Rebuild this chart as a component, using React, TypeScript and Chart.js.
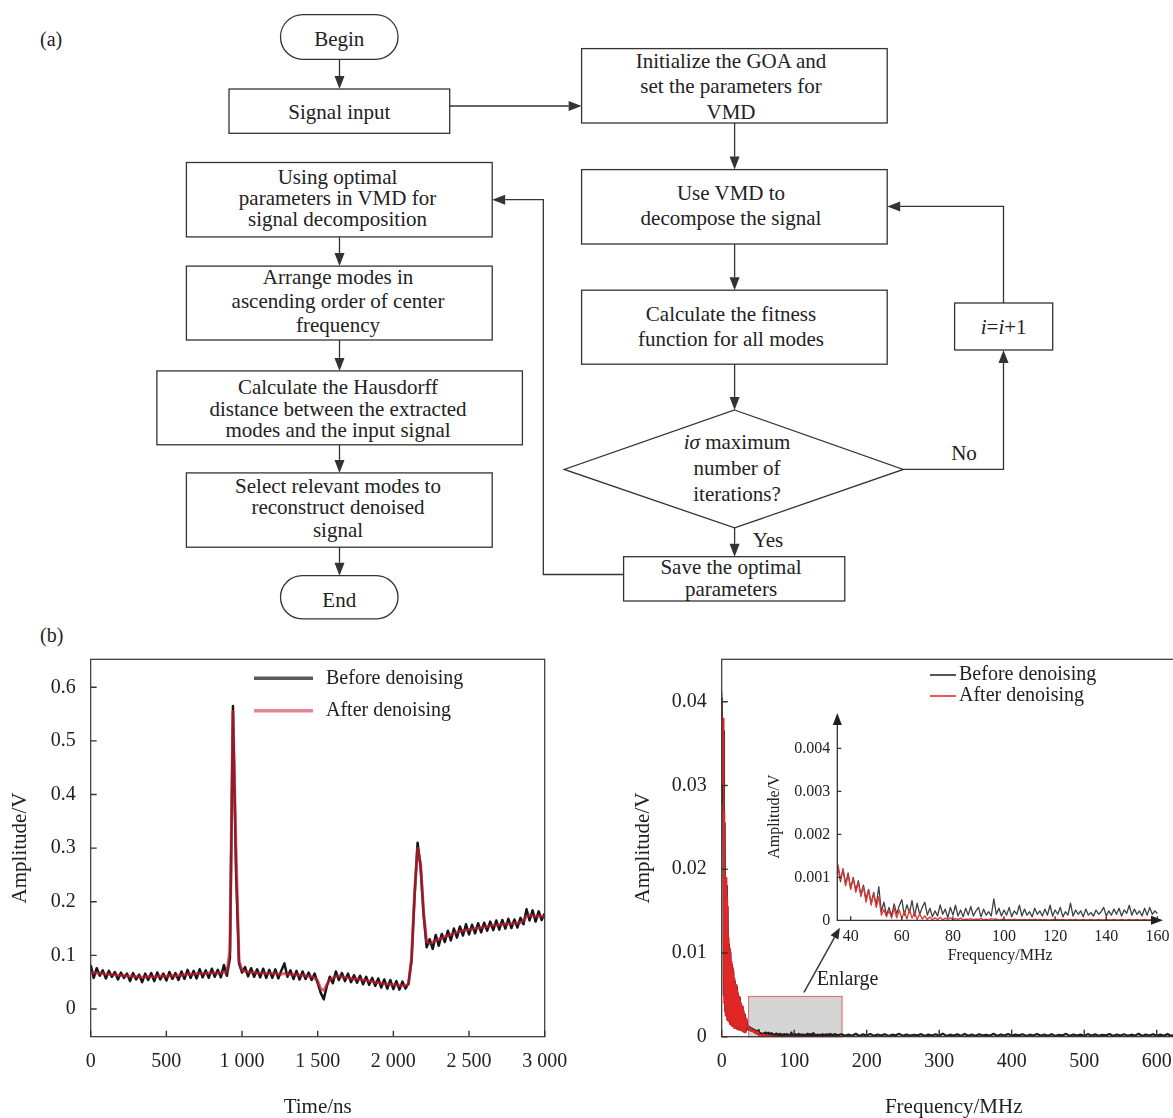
import React, { useEffect, useRef } from "react";
import { Chart, registerables } from "chart.js";

Chart.register(...registerables);

const SERIF = '"Liberation Serif", "Times New Roman", Times, serif';
const INK = "#222222";
const LINE = "#333333";

// ---------------- (b) left : time-domain signal ----------------
const TIME_STEP_NS = 20; // sampling step of the arrays below (0 … 3000 ns)
const beforeTimeAmp = [
  0.082, 0.058, 0.076, 0.062, 0.072, 0.057, 0.071, 0.060, 0.069, 0.055,
  0.068, 0.058, 0.066, 0.052, 0.067, 0.055, 0.064, 0.050, 0.066, 0.054,
  0.067, 0.052, 0.068, 0.055, 0.066, 0.053, 0.069, 0.056, 0.067, 0.054,
  0.070, 0.056, 0.073, 0.058, 0.071, 0.057, 0.074, 0.059, 0.072, 0.058,
  0.075, 0.060, 0.073, 0.059, 0.082, 0.062, 0.095, 0.565, 0.260, 0.085,
  0.068, 0.078, 0.061, 0.076, 0.060, 0.074, 0.059, 0.075, 0.058, 0.073,
  0.058, 0.074, 0.057, 0.072, 0.085, 0.060, 0.072, 0.056, 0.071, 0.055,
  0.070, 0.056, 0.068, 0.054, 0.066, 0.048, 0.030, 0.018, 0.042, 0.060,
  0.048, 0.070, 0.054, 0.067, 0.052, 0.066, 0.050, 0.063, 0.049, 0.062,
  0.046, 0.060, 0.045, 0.058, 0.043, 0.057, 0.040, 0.055, 0.038, 0.054,
  0.037, 0.052, 0.036, 0.051, 0.038, 0.048, 0.090, 0.210, 0.310, 0.265,
  0.175, 0.115, 0.130, 0.112, 0.138, 0.118, 0.140, 0.125, 0.146, 0.128,
  0.150, 0.133, 0.154, 0.137, 0.158, 0.139, 0.157, 0.141, 0.160, 0.143,
  0.161, 0.146, 0.163, 0.147, 0.165, 0.148, 0.166, 0.150, 0.168, 0.151,
  0.167, 0.152, 0.170, 0.158, 0.186, 0.165, 0.184, 0.163, 0.182, 0.166,
  0.178,
];
const afterTimeAmp = [
  0.068, 0.067, 0.067, 0.066, 0.066, 0.065, 0.065, 0.064, 0.064, 0.063,
  0.063, 0.062, 0.062, 0.061, 0.061, 0.060, 0.060, 0.059, 0.060, 0.060,
  0.060, 0.060, 0.061, 0.061, 0.061, 0.061, 0.062, 0.062, 0.062, 0.063,
  0.063, 0.064, 0.065, 0.065, 0.065, 0.066, 0.066, 0.066, 0.066, 0.067,
  0.067, 0.067, 0.067, 0.067, 0.068, 0.069, 0.110, 0.555, 0.300, 0.090,
  0.072, 0.070, 0.069, 0.068, 0.068, 0.067, 0.067, 0.067, 0.066, 0.066,
  0.066, 0.066, 0.065, 0.065, 0.066, 0.065, 0.065, 0.064, 0.064, 0.063,
  0.063, 0.062, 0.061, 0.060, 0.058, 0.052, 0.038, 0.035, 0.045, 0.054,
  0.058, 0.061, 0.061, 0.060, 0.059, 0.058, 0.057, 0.056, 0.056, 0.055,
  0.054, 0.053, 0.052, 0.051, 0.050, 0.049, 0.048, 0.047, 0.046, 0.046,
  0.045, 0.045, 0.044, 0.044, 0.044, 0.046, 0.095, 0.215, 0.300, 0.270,
  0.180, 0.125, 0.122, 0.125, 0.128, 0.130, 0.132, 0.135, 0.137, 0.139,
  0.141, 0.143, 0.145, 0.146, 0.147, 0.148, 0.149, 0.150, 0.151, 0.152,
  0.153, 0.154, 0.155, 0.156, 0.156, 0.157, 0.158, 0.158, 0.159, 0.159,
  0.160, 0.160, 0.161, 0.165, 0.173, 0.175, 0.174, 0.173, 0.174, 0.173,
  0.172,
];
const timeNs = beforeTimeAmp.map((_, i) => i * TIME_STEP_NS);
const timeTicks = [0, 500, 1000, 1500, 2000, 2500, 3000];
const timeTickLabels = ["0", "500", "1 000", "1 500", "2 000", "2 500", "3 000"];
const ampTicks = [0, 0.1, 0.2, 0.3, 0.4, 0.5, 0.6];
const ampTickLabels = ["0", "0.1", "0.2", "0.3", "0.4", "0.5", "0.6"];

// ---------------- (b) right : spectrum (values in mV) ----------------
const beforeSpecLow_mV = [ // 0 … 160 MHz, 1 MHz step
  40.5, 28.0, 36.5, 5.0, 25.5, 3.0, 18.0, 2.5, 15.5, 2.0,
  11.0, 1.8, 10.0, 1.5, 8.6, 1.4, 7.8, 1.2, 6.6, 1.1,
  5.9, 1.0, 5.2, 0.9, 4.6, 0.9, 4.0, 0.8, 3.5, 0.7,
  3.0, 0.6, 2.6, 0.6, 2.1, 1.25, 0.90, 1.20, 0.85, 1.10,
  0.75, 1.00, 0.70, 0.92, 0.60, 0.82, 0.50, 0.72, 0.40, 0.65,
  0.35, 0.78, 0.20, 0.42, 0.12, 0.30, 0.10, 0.38, 0.15, 0.34,
  0.48, 0.12, 0.36, 0.18, 0.46, 0.10, 0.40, 0.14, 0.30, 0.42,
  0.12, 0.28, 0.08, 0.22, 0.10, 0.36, 0.14, 0.26, 0.06, 0.30,
  0.12, 0.35, 0.10, 0.24, 0.08, 0.28, 0.12, 0.32, 0.10, 0.22,
  0.30, 0.08, 0.26, 0.12, 0.20, 0.10, 0.50, 0.14, 0.28, 0.10,
  0.24, 0.12, 0.30, 0.08, 0.22, 0.14, 0.35, 0.10, 0.26, 0.12,
  0.20, 0.08, 0.28, 0.14, 0.22, 0.10, 0.26, 0.12, 0.35, 0.10,
  0.24, 0.14, 0.30, 0.08, 0.20, 0.12, 0.40, 0.10, 0.24, 0.14,
  0.22, 0.08, 0.26, 0.12, 0.18, 0.10, 0.24, 0.14, 0.20, 0.30,
  0.10, 0.22, 0.12, 0.26, 0.14, 0.28, 0.10, 0.24, 0.16, 0.35,
  0.12, 0.26, 0.14, 0.22, 0.10, 0.28, 0.12, 0.30, 0.14, 0.22,
  0.16,
];
const afterSpecLow_mV = [ // 0 … 160 MHz, 1 MHz step
  41.2, 30.0, 38.0, 4.0, 27.0, 2.5, 19.0, 2.0, 16.5, 1.8,
  11.8, 1.5, 10.5, 1.3, 9.0, 1.2, 8.2, 1.0, 7.0, 1.0,
  6.2, 0.9, 5.5, 0.8, 4.8, 0.8, 4.2, 0.7, 3.7, 0.6,
  3.2, 0.5, 2.7, 0.5, 2.2, 1.30, 0.95, 1.18, 0.80, 1.05,
  0.72, 0.98, 0.65, 0.88, 0.55, 0.78, 0.42, 0.70, 0.35, 0.62,
  0.30, 0.55, 0.12, 0.25, 0.08, 0.22, 0.05, 0.28, 0.06, 0.24,
  0.04, 0.20, 0.03, 0.25, 0.05, 0.18, 0.02, 0.15, 0.03, 0.10,
  0.02, 0.08, 0.01, 0.06, 0.02, 0.07, 0.01, 0.05, 0.02, 0.06,
  0.01, 0.04, 0.02, 0.05, 0.01, 0.03, 0.02, 0.04, 0.01, 0.03,
  0.02, 0.04, 0.01, 0.03, 0.01, 0.04, 0.02, 0.03, 0.01, 0.02,
  0.03, 0.01, 0.02, 0.01, 0.03, 0.01, 0.02, 0.01, 0.02, 0.01,
  0.02, 0.01, 0.03, 0.01, 0.02, 0.01, 0.02, 0.01, 0.01, 0.02,
  0.01, 0.02, 0.01, 0.02, 0.01, 0.01, 0.02, 0.01, 0.02, 0.01,
  0.01, 0.02, 0.01, 0.01, 0.02, 0.01, 0.01, 0.02, 0.01, 0.01,
  0.02, 0.01, 0.01, 0.02, 0.01, 0.01, 0.02, 0.01, 0.01, 0.02,
  0.01, 0.01, 0.02, 0.01, 0.01, 0.02, 0.01, 0.01, 0.02, 0.01,
  0.01,
];
const beforeSpecHigh_mV = [ // 165 … 640 MHz, 5 MHz step
  0.30, 0.10, 0.25, 0.12, 0.35, 0.08, 0.28, 0.15, 0.32, 0.10,
  0.26, 0.14, 0.30, 0.09, 0.24, 0.16, 0.34, 0.10, 0.27, 0.12,
  0.22, 0.15, 0.31, 0.08, 0.25, 0.13, 0.29, 0.11, 0.36, 0.09,
  0.24, 0.14, 0.28, 0.10, 0.33, 0.12, 0.26, 0.08, 0.30, 0.15,
  0.23, 0.11, 0.35, 0.09, 0.27, 0.13, 0.31, 0.10, 0.25, 0.16,
  0.29, 0.08, 0.24, 0.14, 0.33, 0.11, 0.26, 0.12, 0.30, 0.09,
  0.22, 0.15, 0.34, 0.10, 0.27, 0.13, 0.25, 0.08, 0.31, 0.12,
  0.28, 0.10, 0.23, 0.16, 0.32, 0.09, 0.26, 0.14, 0.29, 0.11,
  0.24, 0.13, 0.35, 0.08, 0.27, 0.15, 0.30, 0.10, 0.25, 0.12,
  0.33, 0.09, 0.26, 0.14, 0.29, 0.11,
];
const afterSpecHigh_mV = [ // 165 … 640 MHz, 5 MHz step
  0.02, 0.01, 0.03, 0.01, 0.02, 0.01, 0.02, 0.03, 0.01, 0.02,
  0.01, 0.02, 0.01, 0.03, 0.01, 0.02, 0.01, 0.02, 0.01, 0.02,
  0.03, 0.01, 0.02, 0.01, 0.02, 0.01, 0.03, 0.01, 0.02, 0.01,
  0.02, 0.01, 0.02, 0.03, 0.01, 0.02, 0.01, 0.02, 0.01, 0.03,
  0.01, 0.02, 0.01, 0.02, 0.01, 0.03, 0.01, 0.02, 0.01, 0.02,
  0.02, 0.01, 0.03, 0.01, 0.02, 0.01, 0.02, 0.01, 0.03, 0.01,
  0.02, 0.01, 0.02, 0.01, 0.03, 0.02, 0.01, 0.02, 0.01, 0.02,
  0.01, 0.03, 0.01, 0.02, 0.01, 0.02, 0.01, 0.02, 0.03, 0.01,
  0.02, 0.01, 0.02, 0.01, 0.02, 0.01, 0.03, 0.01, 0.02, 0.01,
  0.02, 0.01, 0.03, 0.01, 0.02, 0.01,
];
const specLowFreq = beforeSpecLow_mV.map((_, i) => i);
const specHighFreq = beforeSpecHigh_mV.map((_, i) => 165 + 5 * i);
const freqTicks = [0, 100, 200, 300, 400, 500, 600];
const freqTickLabels = ["0", "100", "200", "300", "400", "500", "600"];
const specAmpTicks = [0, 0.01, 0.02, 0.03, 0.04];
const specAmpTickLabels = ["0", "0.01", "0.02", "0.03", "0.04"];
const insetFreqTicks = [40, 60, 80, 100, 120, 140, 160];
const insetFreqTickLabels = ["40", "60", "80", "100", "120", "140", "160"];
const insetAmpTicks = [0, 0.001, 0.002, 0.003, 0.004];
const insetAmpTickLabels = ["0", "0.001", "0.002", "0.003", "0.004"];
const seriesLabels = ["Before denoising", "After denoising"];

// enlarged region and its annotation (data units)
const ENLARGE_BOX = { fromMHz: 37, toMHz: 166, topV: 0.0048 };
const ENLARGE_ARROW = { fromMHz: 113.5, fromV: 0.0053, toMHz: 163, toV: 0.013 };
const ENLARGE_LABEL = { atMHz: 131, atV: 0.0068, text: "Enlarge" };

const mV = (v: number) => v / 1000;
const toXY = (xs: number[], ys: number[], f = (v: number) => v) =>
  ys.map((y, i) => ({ x: xs[i], y: f(y) }));

function fixedTicks(values: number[]) {
  return (scale: any) => {
    scale.ticks = values.map((v) => ({ value: v }));
  };
}

// fix the axis box size and cancel Chart.js' automatic label overflow padding
function fixSize(dim: "width" | "height", size: number) {
  return (s: any) => {
    s[dim] = size;
    s.paddingTop = 0;
    s.paddingBottom = 0;
    s.paddingLeft = 0;
    s.paddingRight = 0;
  };
}

const NO_GRID = { display: false, drawTicks: false, tickLength: 0 };

function arrowHead(ctx: any, x1: number, y1: number, x2: number, y2: number, len: number, half: number) {
  const dx = x2 - x1, dy = y2 - y1;
  const L = Math.hypot(dx, dy);
  const ux = dx / L, uy = dy / L;
  const bx = x2 - ux * len, by = y2 - uy * len;
  ctx.beginPath();
  ctx.moveTo(x2, y2);
  ctx.lineTo(bx - uy * half, by + ux * half);
  ctx.lineTo(bx + uy * half, by - ux * half);
  ctx.closePath();
  ctx.fill();
  return [bx, by];
}

function frameAndTicks(id: string, tickX: number, tickY: number) {
  return {
    id,
    afterDatasetsDraw(chart: any) {
      const { ctx, chartArea: a, scales } = chart;
      ctx.save();
      ctx.strokeStyle = LINE;
      ctx.lineWidth = 1.2;
      ctx.strokeRect(a.left, a.top, a.right - a.left, a.bottom - a.top);
      ctx.beginPath();
      scales.x.ticks.forEach((t: any) => {
        const px = scales.x.getPixelForValue(t.value);
        ctx.moveTo(px, a.bottom);
        ctx.lineTo(px, a.bottom - tickX);
      });
      scales.y.ticks.forEach((t: any) => {
        const py = scales.y.getPixelForValue(t.value);
        ctx.moveTo(a.left, py);
        ctx.lineTo(a.left + tickY, py);
      });
      ctx.lineWidth = 1.4;
      ctx.stroke();
      ctx.restore();
    },
  };
}

function makeTimeChart(canvas: HTMLCanvasElement) {
  const legendPlugin = {
    id: "timeLegend",
    afterDraw(chart: any) {
      const { ctx } = chart;
      ctx.save();
      const rows = [
        { y: 38.3, color: "#5a5a5a", text: seriesLabels[0] },
        { y: 70.7, color: "rgba(224,112,126,0.85)", text: seriesLabels[1] },
      ];
      rows.forEach((r) => {
        ctx.strokeStyle = r.color;
        ctx.lineWidth = 3.5;
        ctx.beginPath();
        ctx.moveTo(254, r.y);
        ctx.lineTo(313, r.y);
        ctx.stroke();
        ctx.fillStyle = INK;
        ctx.font = `20px ${SERIF}`;
        ctx.textBaseline = "middle";
        ctx.textAlign = "left";
        ctx.fillText(r.text, 326, r.y);
      });
      ctx.restore();
    },
  };
  return new Chart(canvas, {
    type: "line",
    data: {
      datasets: [
        {
          label: seriesLabels[1],
          data: toXY(timeNs, afterTimeAmp),
          borderColor: "rgba(204,30,48,0.68)",
          borderWidth: 3,
          pointRadius: 0,
          borderJoinStyle: "round",
          order: 0,
        },
        {
          label: seriesLabels[0],
          data: toXY(timeNs, beforeTimeAmp),
          borderColor: "#161616",
          borderWidth: 2.5,
          pointRadius: 0,
          borderJoinStyle: "round",
          order: 1,
        },
      ],
    },
    options: {
      animation: false,
      responsive: false,
      devicePixelRatio: 1,
      layout: { autoPadding: false, padding: { left: 0, top: 19.3, right: 25.3, bottom: 0 } },
      plugins: { legend: { display: false }, tooltip: { enabled: false } },
      scales: {
        x: {
          type: "linear",
          min: 0,
          max: 3000,
          afterBuildTicks: fixedTicks(timeTicks),
          afterFit: fixSize("height", 81.3),
          grid: NO_GRID,
          border: { display: false },
          ticks: {
            autoSkip: false, maxRotation: 0, padding: 13, color: INK,
            font: { family: SERIF, size: 20 },
            callback: (_v: any, i: number) => timeTickLabels[i],
          },
          title: {
            display: true, text: "Time/ns", color: INK,
            font: { family: SERIF, size: 21, lineHeight: 1 }, padding: { top: 0, bottom: 0 },
          },
        },
        y: {
          type: "linear",
          min: -0.0517,
          max: 0.6522,
          afterBuildTicks: fixedTicks(ampTicks),
          afterFit: fixSize("width", 90.7),
          grid: NO_GRID,
          border: { display: false },
          ticks: {
            autoSkip: false, padding: 15, color: INK,
            font: { family: SERIF, size: 20 },
            callback: (_v: any, i: number) => ampTickLabels[i],
          },
          title: {
            display: true, text: "Amplitude/V", color: INK,
            font: { family: SERIF, size: 21, lineHeight: 1 }, padding: { top: 9.5, bottom: 0 },
          },
        },
      },
    } as any,
    plugins: [frameAndTicks("timeFrame", 6, 6), legendPlugin],
  });
}

function makeSpecChart(canvas: HTMLCanvasElement) {
  const boxPlugin = {
    id: "enlargeBox",
    beforeDatasetsDraw(chart: any) {
      const { ctx, scales } = chart;
      const x0 = scales.x.getPixelForValue(ENLARGE_BOX.fromMHz);
      const x1 = scales.x.getPixelForValue(ENLARGE_BOX.toMHz);
      const y0 = scales.y.getPixelForValue(0);
      const y1 = scales.y.getPixelForValue(ENLARGE_BOX.topV);
      ctx.save();
      ctx.fillStyle = "#d5d5d5";
      ctx.fillRect(x0, y1, x1 - x0, y0 - y1);
      ctx.strokeStyle = "rgba(214,112,112,0.9)";
      ctx.lineWidth = 1.2;
      ctx.strokeRect(x0, y1, x1 - x0, y0 - y1);
      ctx.restore();
    },
  };
  const annotPlugin = {
    id: "specAnnot",
    afterDraw(chart: any) {
      const { ctx, scales } = chart;
      ctx.save();
      const rows = [
        { y: 35, color: "#2a2a2a", text: seriesLabels[0] },
        { y: 56, color: "rgb(228,45,45)", text: seriesLabels[1] },
      ];
      rows.forEach((r) => {
        ctx.strokeStyle = r.color;
        ctx.lineWidth = 1.6;
        ctx.beginPath();
        ctx.moveTo(330, r.y);
        ctx.lineTo(356, r.y);
        ctx.stroke();
        ctx.fillStyle = INK;
        ctx.font = `20px ${SERIF}`;
        ctx.textBaseline = "middle";
        ctx.textAlign = "left";
        ctx.fillText(r.text, 359, r.y);
      });
      const ax0 = scales.x.getPixelForValue(ENLARGE_ARROW.fromMHz);
      const ay0 = scales.y.getPixelForValue(ENLARGE_ARROW.fromV);
      const ax1 = scales.x.getPixelForValue(ENLARGE_ARROW.toMHz);
      const ay1 = scales.y.getPixelForValue(ENLARGE_ARROW.toV);
      ctx.strokeStyle = "#3a3a3a";
      ctx.fillStyle = "#2a2a2a";
      ctx.lineWidth = 1.5;
      const [bx, by] = arrowHead(ctx, ax0, ay0, ax1, ay1, 11, 4.5);
      ctx.beginPath();
      ctx.moveTo(ax0, ay0);
      ctx.lineTo(bx, by);
      ctx.stroke();
      ctx.fillStyle = INK;
      ctx.font = `20px ${SERIF}`;
      ctx.textBaseline = "middle";
      ctx.textAlign = "left";
      ctx.fillText(
        ENLARGE_LABEL.text,
        scales.x.getPixelForValue(ENLARGE_LABEL.atMHz),
        scales.y.getPixelForValue(ENLARGE_LABEL.atV)
      );
      ctx.restore();
    },
  };
  const allFreq = specLowFreq.concat(specHighFreq);
  return new Chart(canvas, {
    type: "line",
    data: {
      datasets: [
        {
          label: seriesLabels[1],
          data: toXY(allFreq, afterSpecLow_mV.concat(afterSpecHigh_mV), mV),
          borderColor: "rgb(226,38,38)",
          borderWidth: 1.3,
          pointRadius: 0,
          borderJoinStyle: "round",
          order: 0,
        },
        {
          label: seriesLabels[0],
          data: toXY(allFreq, beforeSpecLow_mV.concat(beforeSpecHigh_mV), mV),
          borderColor: "#1e1e1e",
          borderWidth: 2.2,
          pointRadius: 0,
          borderJoinStyle: "round",
          order: 1,
        },
      ],
    },
    options: {
      animation: false,
      responsive: false,
      devicePixelRatio: 1,
      layout: { autoPadding: false, padding: { left: 0, top: 19.3, right: 14.3, bottom: 0 } },
      plugins: { legend: { display: false }, tooltip: { enabled: false } },
      scales: {
        x: {
          type: "linear",
          min: 0,
          max: 640,
          afterBuildTicks: fixedTicks(freqTicks),
          afterFit: fixSize("height", 81.3),
          grid: NO_GRID,
          border: { display: false },
          ticks: {
            autoSkip: false, maxRotation: 0, padding: 13, color: INK,
            font: { family: SERIF, size: 20 },
            callback: (_v: any, i: number) => freqTickLabels[i],
          },
          title: {
            display: true, text: "Frequency/MHz", color: INK,
            font: { family: SERIF, size: 21, lineHeight: 1 }, padding: { top: 0, bottom: 0 },
          },
        },
        y: {
          type: "linear",
          min: 0,
          max: 0.04506,
          afterBuildTicks: fixedTicks(specAmpTicks),
          afterFit: fixSize("width", 121.7),
          grid: NO_GRID,
          border: { display: false },
          ticks: {
            autoSkip: false, padding: 15, color: INK,
            font: { family: SERIF, size: 20 },
            callback: (_v: any, i: number) => specAmpTickLabels[i],
          },
          title: {
            display: true, text: "Amplitude/V", color: INK,
            font: { family: SERIF, size: 21, lineHeight: 1 }, padding: { top: 32.5, bottom: 0 },
          },
        },
      },
    } as any,
    plugins: [boxPlugin, frameAndTicks("specFrame", 7, 6), annotPlugin],
  });
}

function makeInsetChart(canvas: HTMLCanvasElement) {
  const axesPlugin = {
    id: "insetAxes",
    afterDatasetsDraw(chart: any) {
      const { ctx, chartArea: a, scales } = chart;
      ctx.save();
      ctx.strokeStyle = LINE;
      ctx.fillStyle = "#1e1e1e";
      ctx.lineWidth = 1.3;
      const [tx, ty] = arrowHead(ctx, a.left, a.bottom, a.left, a.top, 12, 4.5);
      const [rx, ry] = arrowHead(ctx, a.left, a.bottom, a.right, a.bottom, 12, 4.5);
      ctx.beginPath();
      ctx.moveTo(tx, ty);
      ctx.lineTo(a.left, a.bottom);
      ctx.lineTo(rx, ry);
      scales.x.ticks.forEach((t: any) => {
        const px = scales.x.getPixelForValue(t.value);
        ctx.moveTo(px, a.bottom);
        ctx.lineTo(px, a.bottom - 4);
      });
      scales.y.ticks.forEach((t: any) => {
        const py = scales.y.getPixelForValue(t.value);
        ctx.moveTo(a.left, py);
        ctx.lineTo(a.left + 4, py);
      });
      ctx.stroke();
      ctx.restore();
    },
  };
  const sliceFrom = 35;
  return new Chart(canvas, {
    type: "line",
    data: {
      datasets: [
        {
          label: seriesLabels[1],
          data: toXY(specLowFreq.slice(sliceFrom), afterSpecLow_mV.slice(sliceFrom), mV),
          borderColor: "rgb(228,52,52)",
          borderWidth: 1.3,
          pointRadius: 0,
          borderJoinStyle: "round",
          order: 0,
        },
        {
          label: seriesLabels[0],
          data: toXY(specLowFreq.slice(sliceFrom), beforeSpecLow_mV.slice(sliceFrom), mV),
          borderColor: "#404040",
          borderWidth: 1.3,
          pointRadius: 0,
          borderJoinStyle: "round",
          order: 1,
        },
      ],
    },
    options: {
      animation: false,
      responsive: false,
      devicePixelRatio: 1,
      layout: { autoPadding: false, padding: { left: 0, top: 13, right: 10, bottom: 0 } },
      plugins: { legend: { display: false }, tooltip: { enabled: false } },
      scales: {
        x: {
          type: "linear",
          min: 34.76,
          max: 162.2,
          afterBuildTicks: fixedTicks(insetFreqTicks),
          afterFit: fixSize("height", 49.7),
          grid: NO_GRID,
          border: { display: false },
          ticks: {
            autoSkip: false, maxRotation: 0, padding: 7, color: INK,
            font: { family: SERIF, size: 16 },
            callback: (_v: any, i: number) => insetFreqTickLabels[i],
          },
          title: {
            display: true, text: "Frequency/MHz", color: INK,
            font: { family: SERIF, size: 16, lineHeight: 1 }, padding: { top: 0, bottom: 6 },
          },
        },
        y: {
          type: "linear",
          min: 0,
          max: 0.004821,
          afterBuildTicks: fixedTicks(insetAmpTicks),
          afterFit: fixSize("width", 77.3),
          grid: NO_GRID,
          border: { display: false },
          ticks: {
            autoSkip: false, padding: 7, color: INK,
            font: { family: SERIF, size: 16 },
            callback: (_v: any, i: number) => insetAmpTickLabels[i],
          },
          title: {
            display: true, text: "Amplitude/V", color: INK,
            font: { family: SERIF, size: 16, lineHeight: 1 }, padding: { top: 7, bottom: 0 },
          },
        },
      },
    } as any,
    plugins: [axesPlugin],
  });
}

// ---------------- (a) flowchart ----------------
function Arrow({ points }: { points: number[][] }) {
  const n = points.length;
  const [x1, y1] = points[n - 2];
  const [x2, y2] = points[n - 1];
  const dx = x2 - x1, dy = y2 - y1;
  const L = Math.hypot(dx, dy);
  const ux = dx / L, uy = dy / L;
  const HL = 13, HW = 5;
  const bx = x2 - ux * HL, by = y2 - uy * HL;
  const shaft = points.slice(0, n - 1).concat([[bx, by]]);
  return (
    <g>
      <polyline points={shaft.map((p) => p.join(",")).join(" ")} fill="none" stroke={LINE} strokeWidth={1.3} />
      <polygon
        points={`${x2},${y2} ${bx - uy * HW},${by + ux * HW} ${bx + uy * HW},${by - ux * HW}`}
        fill={LINE}
      />
    </g>
  );
}

function Box({ x, y, w, h, cx, lines }: { x: number; y: number; w: number; h: number; cx?: number; lines: [string, number][] }) {
  const tx = cx ?? x + w / 2;
  return (
    <g>
      <rect x={x} y={y} width={w} height={h} fill="white" stroke={LINE} strokeWidth={1.3} />
      {lines.map(([t, ly], i) => (
        <text key={i} x={tx} y={ly} textAnchor="middle" dominantBaseline="central" fill={INK}>
          {t}
        </text>
      ))}
    </g>
  );
}

function Pill({ x, y, w, h, text, ty }: { x: number; y: number; w: number; h: number; text: string; ty: number }) {
  return (
    <g>
      <rect x={x} y={y} width={w} height={h} rx={h / 2} ry={h / 2} fill="white" stroke={LINE} strokeWidth={1.3} />
      <text x={x + w / 2} y={ty} textAnchor="middle" dominantBaseline="central" fill={INK}>
        {text}
      </text>
    </g>
  );
}

function Flowchart() {
  return (
    <svg
      width={1173}
      height={630}
      style={{ position: "absolute", left: 0, top: 0 }}
      fontFamily={SERIF}
      fontSize={21}
    >
      <text x={40} y={39} dominantBaseline="central" fill={INK} fontSize={20}>(a)</text>

      <Pill x={280.5} y={14.6} w={117.5} h={44.7} text="Begin" ty={38.8} />
      <Arrow points={[[339.5, 59.3], [339.5, 89]]} />
      <Box x={229} y={89} w={220.7} h={44.3} lines={[["Signal input", 112]]} />
      <Arrow points={[[449.7, 106], [581.6, 106]]} />

      <Box
        x={186.4} y={162.5} w={305.8} h={74.4} cx={337.5}
        lines={[["Using optimal", 176.7], ["parameters in VMD for", 197.7], ["signal decomposition", 218.7]]}
      />
      <Arrow points={[[339.5, 236.9], [339.5, 266.1]]} />
      <Box
        x={186.4} y={266.1} w={305.8} h={73.9} cx={338}
        lines={[["Arrange modes in", 276.8], ["ascending order of center", 300.5], ["frequency", 325]]}
      />
      <Arrow points={[[339.5, 340], [339.5, 370.9]]} />
      <Box
        x={156.9} y={370.9} w={365.5} h={73.9} cx={338}
        lines={[["Calculate the Hausdorff", 386.7], ["distance between the extracted", 409.3], ["modes and the input signal", 430.2]]}
      />
      <Arrow points={[[339.5, 444.8], [339.5, 472.9]]} />
      <Box
        x={186.4} y={472.9} w={305.8} h={74.3} cx={338}
        lines={[["Select relevant modes to", 486.4], ["reconstruct denoised", 507.3], ["signal", 529.9]]}
      />
      <Arrow points={[[339.5, 547.2], [339.5, 575.7]]} />
      <Pill x={280.5} y={575.7} w={117.5} h={43.1} text="End" ty={600.2} />

      <Box
        x={581.6} y={48.6} w={305.6} h={74.4} cx={731}
        lines={[["Initialize the GOA and", 61.3], ["set the parameters for", 86.2], ["VMD", 111.9]]}
      />
      <Arrow points={[[734.6, 123], [734.6, 169.6]]} />
      <Box
        x={581.6} y={169.6} w={305.6} h={74.4} cx={731}
        lines={[["Use VMD to", 192.6], ["decompose the signal", 217.5]]}
      />
      <Arrow points={[[734.6, 244], [734.6, 290.2]]} />
      <Box
        x={581.6} y={290.2} w={305.6} h={74} cx={731}
        lines={[["Calculate the fitness", 313.6], ["function for all modes", 338.9]]}
      />
      <Arrow points={[[734.6, 364.2], [734.6, 410]]} />
      <polygon
        points="734.6,410 903.3,469.4 734.6,527.9 564.2,469.4"
        fill="white"
        stroke={LINE}
        strokeWidth={1.3}
      />
      <text x={737} y={441.7} textAnchor="middle" dominantBaseline="central" fill={INK}>
        <tspan fontStyle="italic">iσ</tspan> maximum
      </text>
      <text x={737} y={467.8} textAnchor="middle" dominantBaseline="central" fill={INK}>number of</text>
      <text x={737} y={493.5} textAnchor="middle" dominantBaseline="central" fill={INK}>iterations?</text>

      <Arrow points={[[903.3, 469.4], [1003.5, 469.4], [1003.5, 350]]} />
      <text x={964} y={453} textAnchor="middle" dominantBaseline="central" fill={INK}>No</text>
      <rect x={954.6} y={303} width={98.1} height={47} fill="white" stroke={LINE} strokeWidth={1.3} />
      <text x={1003.7} y={326.6} textAnchor="middle" dominantBaseline="central" fill={INK}>
        <tspan fontStyle="italic">i</tspan>=<tspan fontStyle="italic">i</tspan>+1
      </text>
      <Arrow points={[[1003.5, 303], [1003.5, 206.4], [887.2, 206.4]]} />

      <Arrow points={[[734.6, 527.9], [734.6, 556.7]]} />
      <text x={768} y={540} textAnchor="middle" dominantBaseline="central" fill={INK}>Yes</text>
      <Box
        x={623.6} y={556.7} w={221.2} h={44.3} cx={731}
        lines={[["Save the optimal", 567.4], ["parameters", 589.2]]}
      />
      <Arrow points={[[623.6, 574.5], [543.3, 574.5], [543.3, 199.7], [492.2, 199.7]]} />
    </svg>
  );
}

export default function App() {
  const leftRef = useRef<HTMLCanvasElement>(null);
  const rightRef = useRef<HTMLCanvasElement>(null);
  const insetRef = useRef<HTMLCanvasElement>(null);

  useEffect(() => {
    Chart.defaults.font.family = SERIF;
    Chart.defaults.color = INK;
    const charts = [
      makeTimeChart(leftRef.current!),
      makeSpecChart(rightRef.current!),
      makeInsetChart(insetRef.current!),
    ];
    return () => charts.forEach((c) => c.destroy());
  }, []);

  return (
    <div
      style={{
        position: "absolute",
        left: 0,
        top: 0,
        width: 1173,
        height: 1118,
        overflow: "hidden",
        background: "#ffffff",
        fontFamily: SERIF,
      }}
    >
      <Flowchart />
      <div style={{ position: "absolute", left: 40, top: 623, fontSize: 20, color: INK, lineHeight: "24px" }}>
        (b)
      </div>
      <canvas
        ref={leftRef}
        width={570}
        height={478}
        style={{ position: "absolute", left: 0, top: 640, display: "block" }}
      />
      <div style={{ position: "absolute", left: 600, top: 640, width: 573, height: 478, overflow: "hidden" }}>
        <canvas ref={rightRef} width={600} height={478} style={{ display: "block" }} />
      </div>
      <canvas
        ref={insetRef}
        width={413}
        height={270}
        style={{ position: "absolute", left: 760, top: 700, display: "block" }}
      />
    </div>
  );
}
